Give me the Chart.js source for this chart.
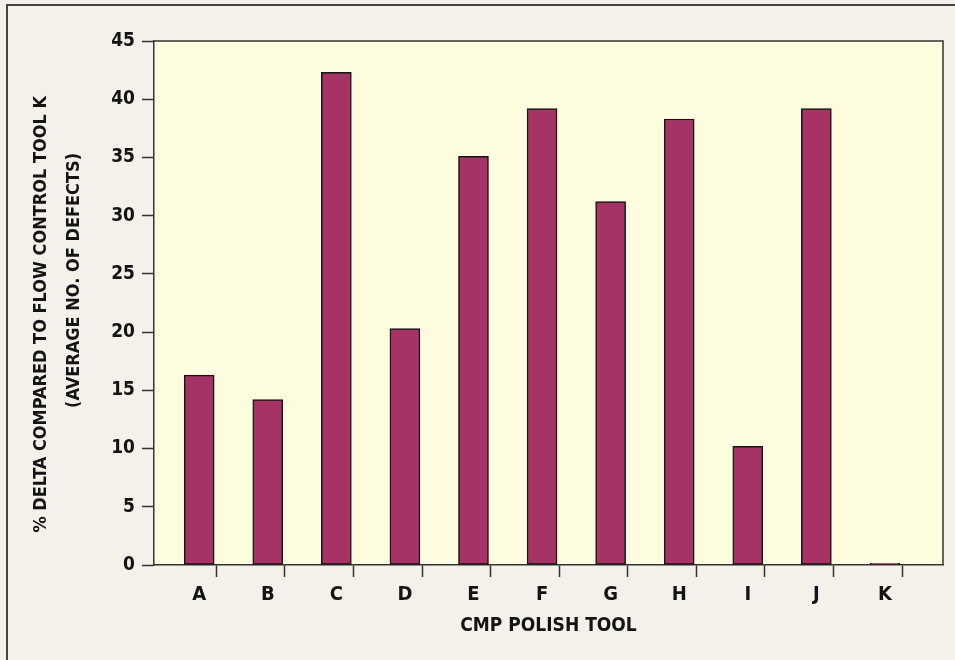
<!DOCTYPE html>
<html>
<head>
<meta charset="utf-8">
<script src="https://cdn.jsdelivr.net/npm/chart.js@4/dist/chart.umd.min.js"></script>
<style>
  html, body { margin: 0; padding: 0; background: #F4F0EA; }
  #wrap { position: relative; width: 955px; height: 660px; overflow: hidden; }
  #frame { position: absolute; left: 6px; top: 4px; width: 1100px; height: 800px;
           border-top: 2px solid #454545; border-left: 2px solid #454545; pointer-events: none; }
  canvas { display: block; }
</style>
</head>
<body>
<div id="wrap">
  <canvas id="c" width="955" height="660"></canvas>
  <div id="frame"></div>
</div>
<script>
const categories = ['A', 'B', 'C', 'D', 'E', 'F', 'G', 'H', 'I', 'J', 'K'];
const deltaValues = [16.3, 14.2, 42.3, 20.3, 35.1, 39.2, 31.2, 38.3, 10.2, 39.2, 0.15];
const yTicks = [0, 5, 10, 15, 20, 25, 30, 35, 40, 45];
const yTitleLines = ['% DELTA COMPARED TO FLOW CONTROL TOOL K    ', '        (AVERAGE NO. OF DEFECTS)'];
const xTitle = 'CMP POLISH TOOL';

const FONT = "'Noto Sans Condensed', 'DejaVu Sans Condensed', 'Liberation Sans Narrow', sans-serif";
const TEXT = '#141414';
const AXIS = '#333333';

const plotBg = {
  id: 'plotBg',
  beforeDraw(chart) {
    const {ctx, chartArea: a} = chart;
    ctx.save();
    ctx.fillStyle = '#FEFCDF';
    ctx.fillRect(a.left, a.top, a.right - a.left, a.bottom - a.top);
    ctx.restore();
  },
  afterDraw(chart) {
    const {ctx, chartArea: a} = chart;
    ctx.save();
    ctx.strokeStyle = AXIS;
    ctx.lineWidth = 1.5;
    ctx.beginPath();
    ctx.moveTo(a.left, a.top);
    ctx.lineTo(a.right, a.top);
    ctx.lineTo(a.right, a.bottom);
    ctx.stroke();
    ctx.restore();
  }
};

new Chart(document.getElementById('c'), {
  type: 'bar',
  data: {
    datasets: [{
      data: deltaValues.map((v, i) => ({x: i, y: v})),
      backgroundColor: '#A53366',
      borderColor: '#151515',
      borderWidth: 1.5,
      borderSkipped: false,
      barThickness: 30
    }]
  },
  plugins: [plotBg],
  options: {
    responsive: false,
    animation: false,
    events: [],
    layout: { padding: { top: 41, right: 12, left: 0, bottom: 0 } },
    plugins: { legend: { display: false }, tooltip: { enabled: false } },
    scales: {
      x: {
        type: 'linear',
        min: -0.385,
        max: 10.573,
        afterFit(scale) { scale.height = 95; },
        afterBuildTicks(scale) {
          const t = [];
          categories.forEach((c, i) => {
            t.push({value: i});
            if (i < categories.length - 1) t.push({value: i + 0.5});
          });
          scale.ticks = t;
        },
        ticks: {
          autoSkip: false,
          maxRotation: 0,
          padding: 6,
          color: TEXT,
          font: { family: FONT, size: 20, weight: 'bold', style: 'condensed' },
          callback: (v) => Number.isInteger(v) ? categories[v] : ''
        },
        grid: {
          drawOnChartArea: false,
          drawTicks: true,
          tickLength: 12,
          tickWidth: 1.5,
          tickColor: (ctx) => (ctx.tick && Number.isInteger(ctx.tick.value)) ? 'rgba(0,0,0,0)' : AXIS
        },
        border: { display: true, color: AXIS, width: 1.5 },
        title: {
          display: true,
          text: xTitle,
          color: TEXT,
          font: { family: FONT, size: 19, weight: 'bold', style: 'condensed', lineHeight: 1.2 },
          padding: { top: 0, bottom: 23 }
        }
      },
      y: {
        min: 0,
        max: 45,
        afterFit(scale) { scale.width = 154; },
        afterBuildTicks(scale) { scale.ticks = yTicks.map(v => ({value: v})); },
        ticks: {
          padding: 7,
          color: TEXT,
          font: { family: FONT, size: 19, weight: 'bold', style: 'condensed' }
        },
        grid: {
          drawOnChartArea: false,
          drawTicks: true,
          tickLength: 12,
          tickWidth: 1.5,
          tickColor: AXIS
        },
        border: { display: true, color: AXIS, width: 1.5 },
        title: {
          display: true,
          text: yTitleLines,
          color: TEXT,
          font: { family: FONT, size: 18, weight: 'bold', style: 'condensed', lineHeight: 33 / 18 },
          padding: { top: 25, bottom: 0 }
        }
      }
    }
  }
});
</script>
</body>
</html>
